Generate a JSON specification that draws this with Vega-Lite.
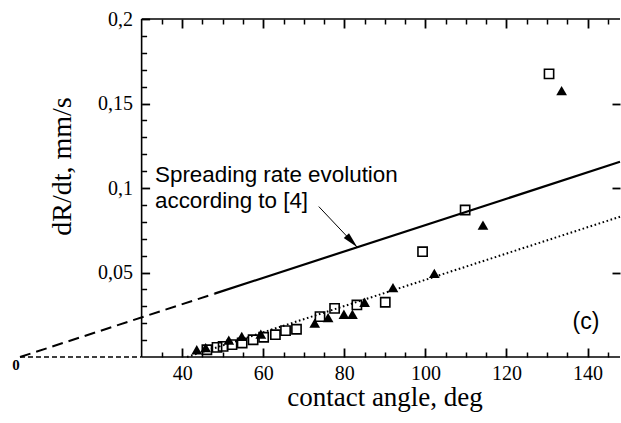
{
  "$schema": "https://vega.github.io/schema/vega-lite/v6.json",
  "width": 600,
  "height": 338,
  "autosize": "none",
  "padding": {"left": 20, "top": 19, "right": 1, "bottom": 66},
  "background": "white",
  "config": {
    "view": {"stroke": null},
    "axis": {"grid": false, "ticks": true, "tickOpacity": 1, "labelFlush": false, "labelOverlap": false, "labelBound": false, "tickColor": "black", "domainColor": "black", "labelColor": "black", "titleColor": "black", "labelFont": "Liberation Serif", "titleFont": "Liberation Serif", "titleFontWeight": "normal"}
  },
  "datasets": {
    "frame": [
      {"x": 30, "x2": 148, "y": 0, "y2": 0},
      {"x": 30, "x2": 148, "y": 0.2, "y2": 0.2},
      {"x": 30, "x2": 30, "y": 0, "y2": 0.2}
    ],
    "origin": [
      {"x": 0, "x2": 30, "y": 0, "y2": 0}
    ],
    "lines": [
      {"s": "dash", "x": 0, "y": 0},
      {"s": "dash", "x": 48, "y": 0.0375},
      {"s": "solid", "x": 48, "y": 0.0375},
      {"s": "solid", "x": 148, "y": 0.1155},
      {"s": "dot", "x": 41.2, "y": 0},
      {"s": "dot", "x": 148, "y": 0.083}
    ],
    "pts": [
      {"s": "square", "x": 46.1, "y": 0.0043},
      {"s": "square", "x": 48.6, "y": 0.0057},
      {"s": "square", "x": 50.1, "y": 0.0063},
      {"s": "square", "x": 52.3, "y": 0.0073},
      {"s": "square", "x": 54.8, "y": 0.0083},
      {"s": "square", "x": 57.5, "y": 0.0102},
      {"s": "square", "x": 60.1, "y": 0.0117},
      {"s": "square", "x": 63.0, "y": 0.0132},
      {"s": "square", "x": 65.5, "y": 0.0156},
      {"s": "square", "x": 68.2, "y": 0.0164},
      {"s": "square", "x": 74.0, "y": 0.0239},
      {"s": "square", "x": 77.6, "y": 0.0288},
      {"s": "square", "x": 83.1, "y": 0.0308},
      {"s": "square", "x": 90.1, "y": 0.0324},
      {"s": "square", "x": 99.3, "y": 0.0623},
      {"s": "square", "x": 109.8, "y": 0.087},
      {"s": "square", "x": 130.5, "y": 0.1675},
      {"s": "triangle", "x": 43.6, "y": 0.0043},
      {"s": "triangle", "x": 45.8, "y": 0.0055},
      {"s": "triangle", "x": 51.5, "y": 0.0100},
      {"s": "triangle", "x": 54.7, "y": 0.0122},
      {"s": "triangle", "x": 59.4, "y": 0.0135},
      {"s": "triangle", "x": 72.7, "y": 0.0200},
      {"s": "triangle", "x": 76.0, "y": 0.0233},
      {"s": "triangle", "x": 79.9, "y": 0.0253},
      {"s": "triangle", "x": 82.0, "y": 0.0253},
      {"s": "triangle", "x": 85.0, "y": 0.0324},
      {"s": "triangle", "x": 92.0, "y": 0.0410},
      {"s": "triangle", "x": 102.2, "y": 0.0495},
      {"s": "triangle", "x": 114.2, "y": 0.0780},
      {"s": "triangle", "x": 133.6, "y": 0.1576}
    ],
    "arrow": [
      {"x": 73.7, "y": 0.089, "x2": 83.2, "y2": 0.0649}
    ],
    "ann": [
      {"x": 33.3, "y": 0.1037, "t": "Spreading rate evolution"},
      {"x": 33.3, "y": 0.0882, "t": "according to [4]"}
    ],
    "panel": [
      {"x": 139.6, "y": 0.0166, "t": "(c)"}
    ],
    "zero": [
      {"x": 0, "y": 0, "t": "0"}
    ]
  },
  "resolve": {"axis": {"x": "independent", "y": "independent"}},
  "layer": [
    {
      "data": {"name": "frame"},
      "mark": {"type": "rule", "color": "black", "strokeWidth": 1.6},
      "encoding": {
        "x": {"field": "x", "type": "quantitative", "scale": {"domain": [0, 148], "nice": false, "zero": false},
          "axis": {"orient": "bottom", "offset": -9, "values": [40, 60, 80, 100, 120, 140], "domain": false, "tickSize": 9, "tickWidth": 1.8, "labelFontSize": 20, "labelPadding": 6, "labelBaseline": "top",
            "title": "contact angle, deg", "titleFontSize": 27, "titleX": 364.5, "titleY": 57, "titleAlign": "center", "titleBaseline": "alphabetic"}},
        "x2": {"field": "x2"},
        "y": {"field": "y", "type": "quantitative", "scale": {"domain": [0, 0.2], "nice": false, "zero": false},
          "axis": {"orient": "left", "offset": -129.6, "values": [0.05, 0.1, 0.15, 0.2], "domain": false, "tickSize": 8, "tickWidth": 1.8, "labelFontSize": 20, "labelPadding": 9,
            "labelExpr": "replace(toString(datum.value), '.', ',')",
            "title": "dR/dt, mm/s", "titleFontSize": 28, "titleAngle": -90, "titleX": -87.6, "titleY": 147, "titleAlign": "center", "titleBaseline": "middle"}},
        "y2": {"field": "y2"}
      }
    },
    {
      "data": {"name": "origin"},
      "mark": {"type": "rule", "color": "black", "strokeWidth": 1.3, "strokeDash": [5, 3]},
      "encoding": {
        "x": {"field": "x", "type": "quantitative", "scale": {"domain": [0, 148], "nice": false, "zero": false},
          "axis": {"orient": "bottom", "offset": -5, "values": [35, 45, 50, 55, 65, 70, 75, 85, 90, 95, 105, 110, 115, 125, 130, 135, 145], "domain": false, "labels": false, "tickSize": 5, "tickWidth": 1.5, "title": null}},
        "x2": {"field": "x2"},
        "y": {"field": "y", "type": "quantitative", "scale": {"domain": [0, 0.2], "nice": false, "zero": false},
          "axis": {"orient": "left", "offset": -126.6, "values": [0.01, 0.02, 0.03, 0.04, 0.06, 0.07, 0.08, 0.09, 0.11, 0.12, 0.13, 0.14, 0.16, 0.17, 0.18, 0.19], "domain": false, "labels": false, "tickSize": 5, "tickWidth": 1.5, "title": null}},
        "y2": {"field": "y2"}
      }
    },
    {
      "data": {"name": "lines"},
      "transform": [{"filter": "datum.s == 'dash'"}],
      "mark": {"type": "line", "color": "black", "strokeWidth": 2, "strokeDash": [11, 6]},
      "encoding": {
        "x": {"field": "x", "type": "quantitative", "scale": {"domain": [0, 148], "nice": false, "zero": false},
          "axis": {"orient": "top", "offset": -9, "values": [40, 60, 80, 100, 120, 140], "domain": false, "labels": false, "tickSize": 9, "tickWidth": 1.8, "title": null}},
        "y": {"field": "y", "type": "quantitative", "scale": {"domain": [0, 0.2], "nice": false, "zero": false},
          "axis": {"orient": "right", "offset": -8, "values": [0.05, 0.1, 0.15], "domain": false, "labels": false, "tickSize": 8, "tickWidth": 1.8, "title": null}}
      }
    },
    {
      "data": {"name": "lines"},
      "transform": [{"filter": "datum.s == 'solid'"}],
      "mark": {"type": "line", "color": "black", "strokeWidth": 2.2},
      "encoding": {
        "x": {"field": "x", "type": "quantitative", "scale": {"domain": [0, 148], "nice": false, "zero": false},
          "axis": {"orient": "top", "offset": -5, "values": [35, 45, 50, 55, 65, 70, 75, 85, 90, 95, 105, 110, 115, 125, 130, 135, 145], "domain": false, "labels": false, "tickSize": 5, "tickWidth": 1.5, "title": null}},
        "y": {"field": "y", "type": "quantitative", "scale": {"domain": [0, 0.2], "nice": false, "zero": false}, "axis": null}
      }
    },
    {
      "data": {"name": "lines"},
      "transform": [{"filter": "datum.s == 'dot'"}],
      "mark": {"type": "line", "color": "black", "strokeWidth": 2, "strokeDash": [1.6, 2.6]},
      "encoding": {
        "x": {"field": "x", "type": "quantitative", "axis": null},
        "y": {"field": "y", "type": "quantitative", "axis": null}
      }
    },
    {
      "data": {"name": "pts"},
      "transform": [{"filter": "datum.s == 'square'"}],
      "mark": {"type": "point", "shape": "square", "filled": false, "stroke": "black", "strokeWidth": 1.6, "size": 85, "opacity": 1},
      "encoding": {
        "x": {"field": "x", "type": "quantitative", "axis": null},
        "y": {"field": "y", "type": "quantitative", "axis": null}
      }
    },
    {
      "data": {"name": "pts"},
      "transform": [{"filter": "datum.s == 'triangle'"}],
      "mark": {"type": "point", "shape": "triangle-up", "filled": true, "fill": "black", "size": 115, "opacity": 1},
      "encoding": {
        "x": {"field": "x", "type": "quantitative", "axis": null},
        "y": {"field": "y", "type": "quantitative", "axis": null}
      }
    },
    {
      "data": {"name": "arrow"},
      "mark": {"type": "rule", "color": "black", "strokeWidth": 1},
      "encoding": {
        "x": {"field": "x", "type": "quantitative", "axis": null},
        "x2": {"field": "x2"},
        "y": {"field": "y", "type": "quantitative", "axis": null},
        "y2": {"field": "y2"}
      }
    },
    {
      "data": {"name": "arrow"},
      "mark": {"type": "point", "shape": "M0,0L-0.45,2L0.45,2Z", "filled": true, "fill": "black", "size": 256, "angle": 137, "opacity": 1},
      "encoding": {
        "x": {"field": "x2", "type": "quantitative", "axis": null},
        "y": {"field": "y2", "type": "quantitative", "axis": null}
      }
    },
    {
      "data": {"name": "ann"},
      "mark": {"type": "text", "font": "Liberation Sans", "fontSize": 22.4, "align": "left", "baseline": "alphabetic", "color": "black"},
      "encoding": {
        "x": {"field": "x", "type": "quantitative", "axis": null},
        "y": {"field": "y", "type": "quantitative", "axis": null},
        "text": {"field": "t"}
      }
    },
    {
      "data": {"name": "panel"},
      "mark": {"type": "text", "font": "Liberation Sans", "fontSize": 23, "align": "center", "baseline": "alphabetic", "color": "black"},
      "encoding": {
        "x": {"field": "x", "type": "quantitative", "axis": null},
        "y": {"field": "y", "type": "quantitative", "axis": null},
        "text": {"field": "t"}
      }
    },
    {
      "data": {"name": "zero"},
      "mark": {"type": "text", "font": "Liberation Serif", "fontSize": 15, "fontWeight": "bold", "align": "center", "baseline": "top", "dx": -4, "dy": 1, "color": "black"},
      "encoding": {
        "x": {"field": "x", "type": "quantitative", "axis": null},
        "y": {"field": "y", "type": "quantitative", "axis": null},
        "text": {"field": "t"}
      }
    }
  ]
}
